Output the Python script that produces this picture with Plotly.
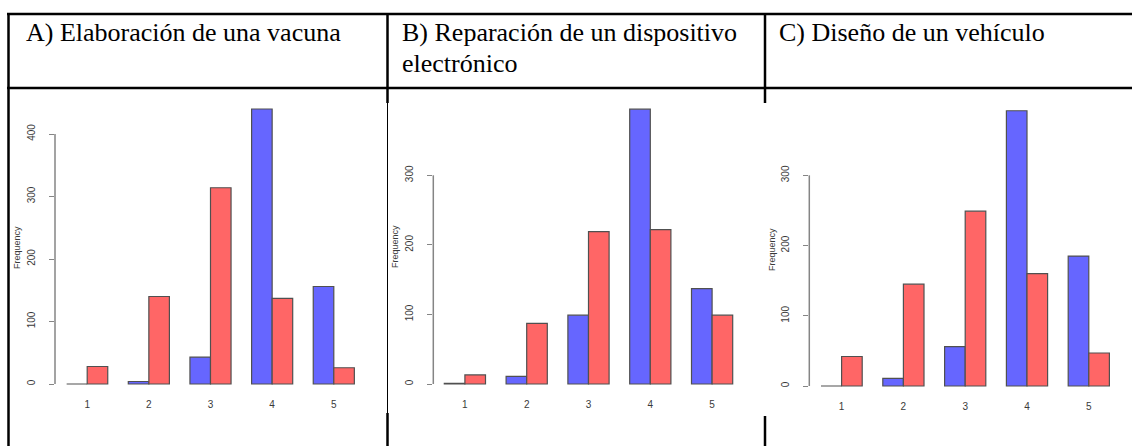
import plotly.graph_objects as go

W, H = 1132, 446

categories = [1, 2, 3, 4, 5]
tick_text = ["1", "2", "3", "4", "5"]

titles_line1 = ["A) Elaboración de una vacuna", "B) Reparación de un dispositivo", "C) Diseño de un vehículo"]
titles_line2 = ["", "electrónico", ""]

blue_A = [0, 4, 43, 440, 156]
red_A = [28, 140, 314, 137, 26]
blue_B = [1, 11, 99, 395, 137]
red_B = [13, 87, 219, 222, 99]
blue_C = [0, 11, 56, 392, 185]
red_C = [42, 145, 249, 160, 47]

yticks_A = [0, 100, 200, 300, 400]
yticks_B = [0, 100, 200, 300]
yticks_C = [0, 100, 200, 300]

BLUE = "#6666FF"
RED = "#FF6666"
OUTLINE = "#505050"
AXIS = "#858585"
TXT = "#3a3a3a"

# pixel geometry of each panel (layout only)
panels = [
    dict(axis_x=55.0, center1=87.2, period=61.65, right=380, zero=384.0, scale=0.625,
         blue=blue_A, red=red_A, yt=yticks_A, ylab_x=17, ylab_y=248, title_x=24),
    dict(axis_x=433.3, center1=464.9, period=61.8, right=760, zero=384.0, scale=0.6957,
         blue=blue_B, red=red_B, yt=yticks_B, ylab_x=395, ylab_y=247, title_x=400),
    dict(axis_x=809.3, center1=841.6, period=61.8, right=1125, zero=386.0, scale=0.7022,
         blue=blue_C, red=red_C, yt=yticks_C, ylab_x=772, ylab_y=250, title_x=777),
]

fig = go.Figure()
shapes = []
annotations = []

for i, p in enumerate(panels):
    n = "" if i == 0 else str(i + 1)
    xa, ya = "x" + n, "y" + n
    fig.add_trace(go.Bar(x=categories, y=p["blue"], xaxis=xa, yaxis=ya,
                         marker=dict(color=BLUE, line=dict(color=OUTLINE, width=1.2)),
                         showlegend=False, hoverinfo="skip"))
    fig.add_trace(go.Bar(x=categories, y=p["red"], xaxis=xa, yaxis=ya,
                         marker=dict(color=RED, line=dict(color=OUTLINE, width=1.2)),
                         showlegend=False, hoverinfo="skip"))
    yb = p["zero"] + 11
    yt = 95
    xlo = 1 - (p["center1"] - p["axis_x"]) / p["period"]
    xhi = 1 + (p["right"] - p["center1"]) / p["period"]
    ylo = (p["zero"] - yb) / p["scale"]
    yhi = (p["zero"] - yt) / p["scale"]
    fig.layout["xaxis" + n] = dict(
        domain=[p["axis_x"] / W, p["right"] / W], range=[xlo, xhi], anchor=ya,
        tickvals=categories, ticktext=tick_text, showline=False, showgrid=False,
        zeroline=False, ticks="", tickfont=dict(family="Liberation Sans", size=10, color=TXT),
        ticklabelstandoff=2, fixedrange=True)
    fig.layout["yaxis" + n] = dict(
        domain=[1 - yb / H, 1 - yt / H], range=[ylo, yhi], anchor=xa,
        tickvals=p["yt"], ticktext=[str(v) for v in p["yt"]], showline=False, showgrid=False,
        zeroline=False, ticks="outside", ticklen=5, tickcolor=AXIS, tickwidth=1.2,
        tickangle=-90, tickfont=dict(family="Liberation Sans", size=10, color=TXT),
        ticklabelstandoff=10, fixedrange=True)
    shapes.append(dict(type="line", xref="paper", yref=ya,
                       x0=p["axis_x"] / W, x1=p["axis_x"] / W, y0=0, y1=max(p["yt"]),
                       line=dict(color=AXIS, width=1.5)))
    annotations.append(dict(text="Frequency", xref="paper", yref="paper",
                            x=p["ylab_x"] / W, y=1 - p["ylab_y"] / H, textangle=-90,
                            showarrow=False, xanchor="center", yanchor="middle",
                            font=dict(family="Liberation Sans", size=9, color=TXT)))
    annotations.append(dict(text=titles_line1[i], xref="paper", yref="paper",
                            x=p["title_x"] / W, y=1 - 33 / H, showarrow=False,
                            xanchor="left", yanchor="middle",
                            font=dict(family="Liberation Serif", size=26, color="black")))
    if titles_line2[i]:
        annotations.append(dict(text=titles_line2[i], xref="paper", yref="paper",
                                x=p["title_x"] / W, y=1 - 64 / H, showarrow=False,
                                xanchor="left", yanchor="middle",
                                font=dict(family="Liberation Serif", size=26, color="black")))

def hline(y, x0, x1, w=2.5):
    shapes.append(dict(type="line", xref="paper", yref="paper", x0=x0 / W, x1=x1 / W,
                       y0=1 - y / H, y1=1 - y / H, line=dict(color="black", width=w)))

def vline(x, y0, y1, w=2.5):
    shapes.append(dict(type="line", xref="paper", yref="paper", x0=x / W, x1=x / W,
                       y0=1 - y0 / H, y1=1 - y1 / H, line=dict(color="black", width=w)))

hline(14, 7, W)
hline(88, 7, W)
vline(8.5, 13, H)
vline(387.5, 13, 103)
vline(387.5, 103, 413, 1)
vline(387.5, 413, H)
vline(765, 13, 103)
vline(765, 416, H)

fig.update_layout(width=W, height=H, margin=dict(l=0, r=0, t=0, b=0),
                  paper_bgcolor="white", plot_bgcolor="rgba(0,0,0,0)",
                  barmode="group", bargap=1 / 3, bargroupgap=0,
                  shapes=shapes, annotations=annotations)

fig.write_html("out.html", config={"displayModeBar": False},
               post_script="document.body.style.margin='0';document.body.style.overflow='hidden';")
